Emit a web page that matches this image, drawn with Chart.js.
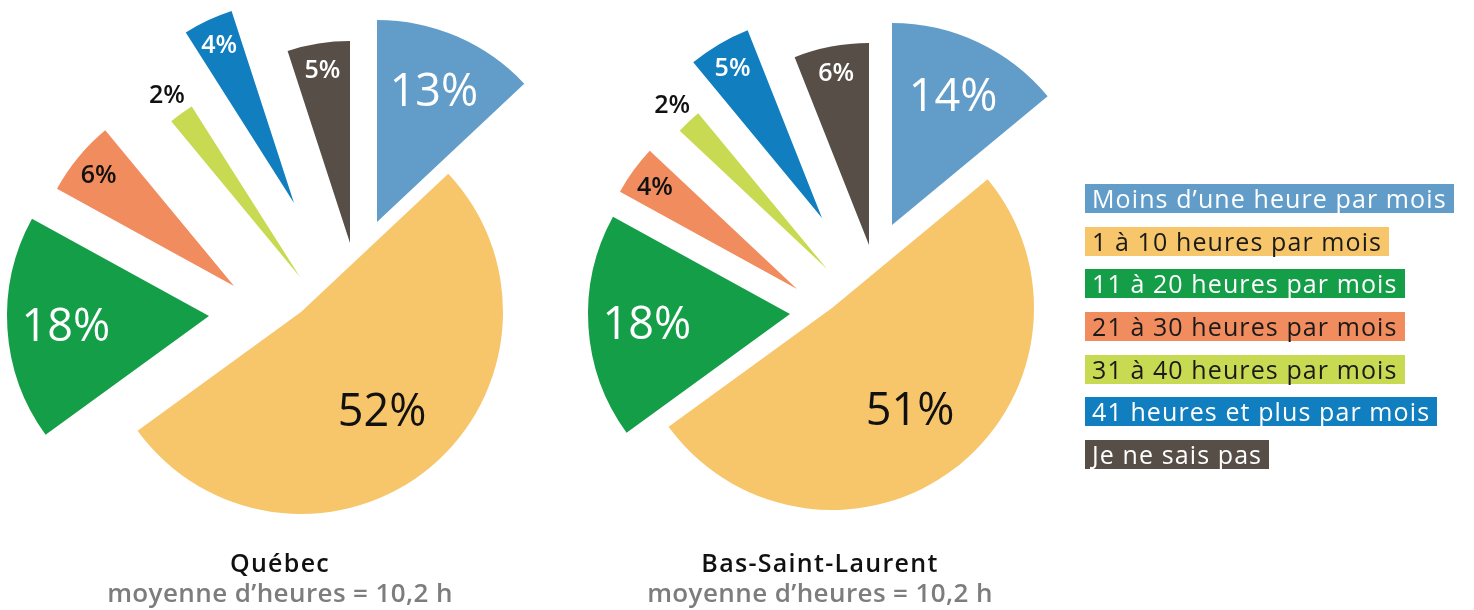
<!DOCTYPE html>
<html>
<head>
<meta charset="utf-8">
<script src="https://cdn.jsdelivr.net/npm/chart.js@4.4.1/dist/chart.umd.min.js"></script>
<style>
  html, body { margin:0; padding:0; background:#fff; width:1474px; height:610px; overflow:hidden; position:relative; font-family:"Open Sans", sans-serif; }
  canvas { position:absolute; top:0; }
  #c1 { left:0; }
  #c2 { left:550px; }
  #legend { position:absolute; left:1085px; top:184px; display:flex; flex-direction:column; align-items:flex-start; gap:13.7px; }
  .item { height:29px; line-height:29px; font-size:25px; padding:0 7px; letter-spacing:1.1px; white-space:nowrap; }
  .cap { position:absolute; width:500px; text-align:center; white-space:nowrap; }
  .cap .t { font-size:25px; line-height:30px; font-weight:600; color:#111; letter-spacing:1.3px; }
  .cap .s { font-size:26px; line-height:32px; font-weight:600; color:#7d7d7d; letter-spacing:0.4px; margin-top:-1px; }
</style>
</head>
<body>
<canvas id="c1" width="560" height="600"></canvas>
<canvas id="c2" width="560" height="600"></canvas>
<div id="legend"></div>
<div class="cap" id="cap1" style="left:30px; top:547px;"></div>
<div class="cap" id="cap2" style="left:570px; top:547px;"></div>
<script>
// ---- data ----
const categories = [
  'Moins d’une heure par mois',
  '1 à 10 heures par mois',
  '11 à 20 heures par mois',
  '21 à 30 heures par mois',
  '31 à 40 heures par mois',
  '41 heures et plus par mois',
  'Je ne sais pas'
];
const quebecValues = [13, 52, 18, 6, 2, 4, 5];
const bslValues = [14, 51, 18, 4, 2, 5, 6];
const regionTitles = ['Québec', 'Bas-Saint-Laurent'];
const averageLabels = ['moyenne d’heures = 10,2 h', 'moyenne d’heures = 10,2 h'];

// ---- styles ----
const colors = ['#629DC9', '#F7C66B', '#159E48', '#F08C5E', '#C8DA52', '#117EC0', '#574F47'];
const labelColors = ['#ffffff', '#111111', '#ffffff', '#111111', '#111111', '#ffffff', '#ffffff'];
const legendTextColors = ['#ffffff', '#1a1a1a', '#ffffff', '#1a1a1a', '#1a1a1a', '#ffffff', '#ffffff'];
// per-slice explode translation (px)
const quebecExplode = [[97,-78],[21,12],[-71,16],[-46,-14],[20,-23],[14,-97],[70,-57]];
const bslExplode = [[62,-75],[2,8],[-40,14],[-33,-11],[-3,-31],[-8,-82],[39,-55]];
const pieRadius = 202;

const explodePlugin = {
  id: 'explode',
  beforeDatasetDraw(chart, args, opts) {
    const ctx = chart.ctx;
    args.meta.data.forEach((arc, i) => {
      const s = opts.shifts[i] || [0, 0];
      ctx.save();
      ctx.translate(s[0], s[1]);
      arc.draw(ctx, chart.chartArea);
      ctx.restore();
    });
    return false;
  },
  afterDatasetsDraw(chart, args, opts) {
    const ctx = chart.ctx;
    const ds = chart.data.datasets[0];
    chart.getDatasetMeta(0).data.forEach((arc, i) => {
      const v = ds.data[i];
      const p = arc.getProps(['x', 'y', 'startAngle', 'endAngle', 'outerRadius'], true);
      const mid = (p.startAngle + p.endAngle) / 2;
      const frac = v >= 40 ? 0.63 : v >= 10 ? 0.71 : v >= 3 ? 0.87 : 1.12;
      const size = v >= 10 ? 45 : 25;
      const s = opts.shifts[i] || [0, 0];
      const px = p.x + s[0] + Math.cos(mid) * p.outerRadius * frac;
      const py = p.y + s[1] + Math.sin(mid) * p.outerRadius * frac;
      ctx.save();
      ctx.font = (v >= 10 ? '500 ' : '600 ') + size + 'px "Open Sans"';
      ctx.fillStyle = v < 3 ? '#111111' : labelColors[i];
      ctx.textAlign = 'center';
      ctx.textBaseline = 'alphabetic';
      ctx.fillText(v + '%', px, py + size * 0.357);
      ctx.restore();
    });
  }
};

function makePie(id, values, shifts) {
  return new Chart(document.getElementById(id), {
    type: 'pie',
    data: {
      labels: categories,
      datasets: [{ data: values, backgroundColor: colors, borderWidth: 0 }]
    },
    options: {
      responsive: false,
      animation: false,
      events: [],
      radius: pieRadius,
      layout: { padding: 0 },
      plugins: {
        legend: { display: false },
        tooltip: { enabled: false },
        explode: { shifts: shifts }
      }
    },
    plugins: [explodePlugin]
  });
}

makePie('c1', quebecValues, quebecExplode);
makePie('c2', bslValues, bslExplode);

const legend = document.getElementById('legend');
categories.forEach((c, i) => {
  const d = document.createElement('div');
  d.className = 'item';
  d.textContent = c;
  d.style.background = colors[i];
  d.style.color = legendTextColors[i];
  legend.appendChild(d);
});

['cap1', 'cap2'].forEach((id, i) => {
  const el = document.getElementById(id);
  const t = document.createElement('div'); t.className = 't'; t.textContent = regionTitles[i];
  const s = document.createElement('div'); s.className = 's'; s.textContent = averageLabels[i];
  el.appendChild(t); el.appendChild(s);
});
</script>
</body>
</html>
